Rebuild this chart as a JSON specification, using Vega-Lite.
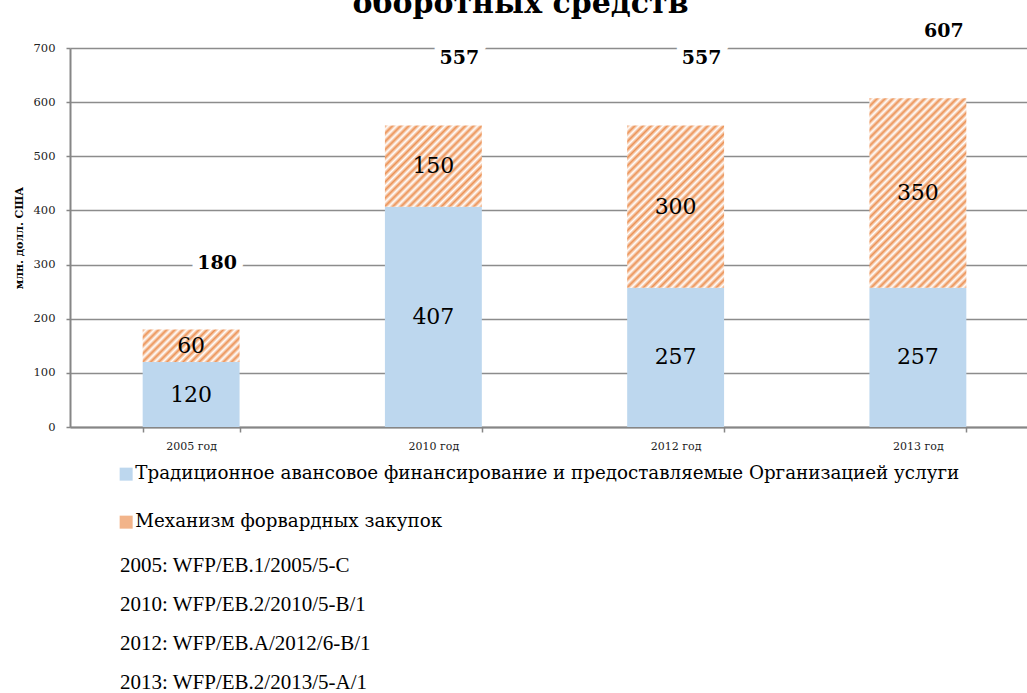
{
  "$schema": "https://vega.github.io/schema/vega-lite/v6.json",
  "width": 957,
  "height": 379,
  "autosize": {"type": "none"},
  "padding": {"left": 70, "top": 48, "right": 0, "bottom": 266},
  "background": "white",
  "config": {"view": {"stroke": null}},
  "title": {"text": "оборотных средств", "font": "DejaVu Serif", "fontSize": 30, "fontWeight": "bold", "color": "#000000", "anchor": "middle", "frame": "group", "dx": -28, "dy": 21, "offset": 0, "baseline": "alphabetic"},
  "datasets": {
    "bars": [
      {"year": "2005 год", "series": "Традиционное авансовое финансирование и предоставляемые Организацией услуги", "value": 120},
      {"year": "2005 год", "series": "Механизм форвардных закупок", "value": 60},
      {"year": "2010 год", "series": "Традиционное авансовое финансирование и предоставляемые Организацией услуги", "value": 407},
      {"year": "2010 год", "series": "Механизм форвардных закупок", "value": 150},
      {"year": "2012 год", "series": "Традиционное авансовое финансирование и предоставляемые Организацией услуги", "value": 257},
      {"year": "2012 год", "series": "Механизм форвардных закупок", "value": 300},
      {"year": "2013 год", "series": "Традиционное авансовое финансирование и предоставляемые Организацией услуги", "value": 257},
      {"year": "2013 год", "series": "Механизм форвардных закупок", "value": 350}
    ],
    "notes": [
      {"note": "2005: WFP/EB.1/2005/5-C"},
      {"note": "2010: WFP/EB.2/2010/5-B/1"},
      {"note": "2012: WFP/EB.A/2012/6-B/1"},
      {"note": "2013: WFP/EB.2/2013/5-A/1"}
    ]
  },
  "data": {"name": "bars"},
  "layer": [
    {
      "transform": [{"filter": "datum.series !== 'Механизм форвардных закупок'"}],
      "mark": {"type": "bar"},
      "encoding": {
        "x": {"field": "year", "type": "nominal", "sort": null,
          "scale": {"range": [0, 969], "paddingInner": 0.6, "paddingOuter": 0.3},
          "axis": {"title": null, "labelAngle": 0, "tickBand": "extent", "tickSize": 5, "labelPadding": 8, "domainColor": "#868686", "domainWidth": 2, "tickColor": "#868686", "tickWidth": 1.5, "labelFont": "DejaVu Serif", "labelFontSize": 11, "labelColor": "#222222", "grid": false}},
        "y": {"field": "value", "type": "quantitative",
          "scale": {"domain": [0, 700], "nice": false},
          "axis": {"title": "млн. долл. США", "titleFont": "DejaVu Serif", "titleFontSize": 11, "titleFontWeight": "bold", "titleColor": "#000000", "titlePadding": 9, "values": [0, 100, 200, 300, 400, 500, 600, 700], "grid": true, "gridColor": "#8c8c8c", "gridWidth": 1.5, "domainColor": "#868686", "domainWidth": 2, "tickSize": 4, "tickColor": "#868686", "tickWidth": 1.5, "labelFont": "DejaVu Serif", "labelFontSize": 11.5, "labelPadding": 11, "labelColor": "#222222"}},
        "fill": {"field": "series", "type": "nominal",
          "scale": {"domain": ["Традиционное авансовое финансирование и предоставляемые Организацией услуги", "Механизм форвардных закупок"], "range": ["#bdd7ee", "#f2b48a"]},
          "legend": {"orient": "none", "legendX": 47, "legendY": 417, "title": null, "direction": "vertical", "symbolType": "square", "symbolSize": 169, "symbolStrokeWidth": 0, "labelFont": "DejaVu Serif", "labelFontSize": 18.3, "labelColor": "#000000", "labelOffset": 0, "rowPadding": 29, "padding": 0, "labelLimit": 1000}}
      }
    },
    {
      "transform": [
        {"stack": "value", "groupby": ["year"], "sort": [{"field": "series", "order": "descending"}], "as": ["v0", "v1"]},
        {"filter": "datum.year === '2005 год' && datum.v0 > 0"}
      ],
      "mark": {"type": "bar", "fill": {"gradient": "linear", "x1": 0, "y1": 0, "x2": 1.2004, "y2": 0.4025, "stops": [
        {"offset": 0, "color": "#ec9255"}, {"offset": 0.03125, "color": "#ffffff"}, {"offset": 0.0625, "color": "#ec9255"}, {"offset": 0.09375, "color": "#ffffff"},
        {"offset": 0.125, "color": "#ec9255"}, {"offset": 0.15625, "color": "#ffffff"}, {"offset": 0.1875, "color": "#ec9255"}, {"offset": 0.21875, "color": "#ffffff"},
        {"offset": 0.25, "color": "#ec9255"}, {"offset": 0.28125, "color": "#ffffff"}, {"offset": 0.3125, "color": "#ec9255"}, {"offset": 0.34375, "color": "#ffffff"},
        {"offset": 0.375, "color": "#ec9255"}, {"offset": 0.40625, "color": "#ffffff"}, {"offset": 0.4375, "color": "#ec9255"}, {"offset": 0.46875, "color": "#ffffff"},
        {"offset": 0.5, "color": "#ec9255"}, {"offset": 0.53125, "color": "#ffffff"}, {"offset": 0.5625, "color": "#ec9255"}, {"offset": 0.59375, "color": "#ffffff"},
        {"offset": 0.625, "color": "#ec9255"}, {"offset": 0.65625, "color": "#ffffff"}, {"offset": 0.6875, "color": "#ec9255"}, {"offset": 0.71875, "color": "#ffffff"},
        {"offset": 0.75, "color": "#ec9255"}, {"offset": 0.78125, "color": "#ffffff"}, {"offset": 0.8125, "color": "#ec9255"}, {"offset": 0.84375, "color": "#ffffff"},
        {"offset": 0.875, "color": "#ec9255"}, {"offset": 0.90625, "color": "#ffffff"}, {"offset": 0.9375, "color": "#ec9255"}, {"offset": 0.96875, "color": "#ffffff"},
        {"offset": 1, "color": "#ec9255"}]}},
      "encoding": {
        "x": {"field": "year", "type": "nominal", "sort": null},
        "y": {"field": "v0", "type": "quantitative"},
        "y2": {"field": "v1"}
      }
    },
    {
      "transform": [
        {"stack": "value", "groupby": ["year"], "sort": [{"field": "series", "order": "descending"}], "as": ["v0", "v1"]},
        {"filter": "datum.year === '2010 год' && datum.v0 > 0"}
      ],
      "mark": {"type": "bar", "fill": {"gradient": "linear", "x1": 0, "y1": 0, "x2": 1.0797, "y2": 0.9049, "stops": [
        {"offset": 0, "color": "#ec9255"}, {"offset": 0.0227, "color": "#ffffff"}, {"offset": 0.0455, "color": "#ec9255"}, {"offset": 0.0682, "color": "#ffffff"},
        {"offset": 0.0909, "color": "#ec9255"}, {"offset": 0.1136, "color": "#ffffff"}, {"offset": 0.1364, "color": "#ec9255"}, {"offset": 0.1591, "color": "#ffffff"},
        {"offset": 0.1818, "color": "#ec9255"}, {"offset": 0.2045, "color": "#ffffff"}, {"offset": 0.2273, "color": "#ec9255"}, {"offset": 0.25, "color": "#ffffff"},
        {"offset": 0.2727, "color": "#ec9255"}, {"offset": 0.2955, "color": "#ffffff"}, {"offset": 0.3182, "color": "#ec9255"}, {"offset": 0.3409, "color": "#ffffff"},
        {"offset": 0.3636, "color": "#ec9255"}, {"offset": 0.3864, "color": "#ffffff"}, {"offset": 0.4091, "color": "#ec9255"}, {"offset": 0.4318, "color": "#ffffff"},
        {"offset": 0.4545, "color": "#ec9255"}, {"offset": 0.4773, "color": "#ffffff"}, {"offset": 0.5, "color": "#ec9255"}, {"offset": 0.5227, "color": "#ffffff"},
        {"offset": 0.5455, "color": "#ec9255"}, {"offset": 0.5682, "color": "#ffffff"}, {"offset": 0.5909, "color": "#ec9255"}, {"offset": 0.6136, "color": "#ffffff"},
        {"offset": 0.6364, "color": "#ec9255"}, {"offset": 0.6591, "color": "#ffffff"}, {"offset": 0.6818, "color": "#ec9255"}, {"offset": 0.7045, "color": "#ffffff"},
        {"offset": 0.7273, "color": "#ec9255"}, {"offset": 0.75, "color": "#ffffff"}, {"offset": 0.7727, "color": "#ec9255"}, {"offset": 0.7955, "color": "#ffffff"},
        {"offset": 0.8182, "color": "#ec9255"}, {"offset": 0.8409, "color": "#ffffff"}, {"offset": 0.8636, "color": "#ec9255"}, {"offset": 0.8864, "color": "#ffffff"},
        {"offset": 0.9091, "color": "#ec9255"}, {"offset": 0.9318, "color": "#ffffff"}, {"offset": 0.9545, "color": "#ec9255"}, {"offset": 0.9773, "color": "#ffffff"},
        {"offset": 1, "color": "#ec9255"}]}},
      "encoding": {
        "x": {"field": "year", "type": "nominal", "sort": null},
        "y": {"field": "v0", "type": "quantitative"},
        "y2": {"field": "v1"}
      }
    },
    {
      "transform": [
        {"stack": "value", "groupby": ["year"], "sort": [{"field": "series", "order": "descending"}], "as": ["v0", "v1"]},
        {"filter": "datum.year === '2012 год' && datum.v0 > 0"}
      ],
      "mark": {"type": "bar", "fill": {"gradient": "linear", "x1": 0, "y1": 0, "x2": 0.7025, "y2": 1.1775, "stops": [
        {"offset": 0, "color": "#ec9255"}, {"offset": 0.015625, "color": "#ffffff"}, {"offset": 0.03125, "color": "#ec9255"}, {"offset": 0.046875, "color": "#ffffff"},
        {"offset": 0.0625, "color": "#ec9255"}, {"offset": 0.078125, "color": "#ffffff"}, {"offset": 0.09375, "color": "#ec9255"}, {"offset": 0.109375, "color": "#ffffff"},
        {"offset": 0.125, "color": "#ec9255"}, {"offset": 0.140625, "color": "#ffffff"}, {"offset": 0.15625, "color": "#ec9255"}, {"offset": 0.171875, "color": "#ffffff"},
        {"offset": 0.1875, "color": "#ec9255"}, {"offset": 0.203125, "color": "#ffffff"}, {"offset": 0.21875, "color": "#ec9255"}, {"offset": 0.234375, "color": "#ffffff"},
        {"offset": 0.25, "color": "#ec9255"}, {"offset": 0.265625, "color": "#ffffff"}, {"offset": 0.28125, "color": "#ec9255"}, {"offset": 0.296875, "color": "#ffffff"},
        {"offset": 0.3125, "color": "#ec9255"}, {"offset": 0.328125, "color": "#ffffff"}, {"offset": 0.34375, "color": "#ec9255"}, {"offset": 0.359375, "color": "#ffffff"},
        {"offset": 0.375, "color": "#ec9255"}, {"offset": 0.390625, "color": "#ffffff"}, {"offset": 0.40625, "color": "#ec9255"}, {"offset": 0.421875, "color": "#ffffff"},
        {"offset": 0.4375, "color": "#ec9255"}, {"offset": 0.453125, "color": "#ffffff"}, {"offset": 0.46875, "color": "#ec9255"}, {"offset": 0.484375, "color": "#ffffff"},
        {"offset": 0.5, "color": "#ec9255"}, {"offset": 0.515625, "color": "#ffffff"}, {"offset": 0.53125, "color": "#ec9255"}, {"offset": 0.546875, "color": "#ffffff"},
        {"offset": 0.5625, "color": "#ec9255"}, {"offset": 0.578125, "color": "#ffffff"}, {"offset": 0.59375, "color": "#ec9255"}, {"offset": 0.609375, "color": "#ffffff"},
        {"offset": 0.625, "color": "#ec9255"}, {"offset": 0.640625, "color": "#ffffff"}, {"offset": 0.65625, "color": "#ec9255"}, {"offset": 0.671875, "color": "#ffffff"},
        {"offset": 0.6875, "color": "#ec9255"}, {"offset": 0.703125, "color": "#ffffff"}, {"offset": 0.71875, "color": "#ec9255"}, {"offset": 0.734375, "color": "#ffffff"},
        {"offset": 0.75, "color": "#ec9255"}, {"offset": 0.765625, "color": "#ffffff"}, {"offset": 0.78125, "color": "#ec9255"}, {"offset": 0.796875, "color": "#ffffff"},
        {"offset": 0.8125, "color": "#ec9255"}, {"offset": 0.828125, "color": "#ffffff"}, {"offset": 0.84375, "color": "#ec9255"}, {"offset": 0.859375, "color": "#ffffff"},
        {"offset": 0.875, "color": "#ec9255"}, {"offset": 0.890625, "color": "#ffffff"}, {"offset": 0.90625, "color": "#ec9255"}, {"offset": 0.921875, "color": "#ffffff"},
        {"offset": 0.9375, "color": "#ec9255"}, {"offset": 0.953125, "color": "#ffffff"}, {"offset": 0.96875, "color": "#ec9255"}, {"offset": 0.984375, "color": "#ffffff"},
        {"offset": 1, "color": "#ec9255"}]}},
      "encoding": {
        "x": {"field": "year", "type": "nominal", "sort": null},
        "y": {"field": "v0", "type": "quantitative"},
        "y2": {"field": "v1"}
      }
    },
    {
      "transform": [
        {"stack": "value", "groupby": ["year"], "sort": [{"field": "series", "order": "descending"}], "as": ["v0", "v1"]},
        {"filter": "datum.year === '2013 год' && datum.v0 > 0"}
      ],
      "mark": {"type": "bar", "fill": {"gradient": "linear", "x1": 0, "y1": 0, "x2": 0.6126, "y2": 1.1981, "stops": [
        {"offset": 0, "color": "#ec9255"}, {"offset": 0.0139, "color": "#ffffff"}, {"offset": 0.0278, "color": "#ec9255"}, {"offset": 0.0417, "color": "#ffffff"},
        {"offset": 0.0556, "color": "#ec9255"}, {"offset": 0.0694, "color": "#ffffff"}, {"offset": 0.0833, "color": "#ec9255"}, {"offset": 0.0972, "color": "#ffffff"},
        {"offset": 0.1111, "color": "#ec9255"}, {"offset": 0.125, "color": "#ffffff"}, {"offset": 0.1389, "color": "#ec9255"}, {"offset": 0.1528, "color": "#ffffff"},
        {"offset": 0.1667, "color": "#ec9255"}, {"offset": 0.1806, "color": "#ffffff"}, {"offset": 0.1944, "color": "#ec9255"}, {"offset": 0.2083, "color": "#ffffff"},
        {"offset": 0.2222, "color": "#ec9255"}, {"offset": 0.2361, "color": "#ffffff"}, {"offset": 0.25, "color": "#ec9255"}, {"offset": 0.2639, "color": "#ffffff"},
        {"offset": 0.2778, "color": "#ec9255"}, {"offset": 0.2917, "color": "#ffffff"}, {"offset": 0.3056, "color": "#ec9255"}, {"offset": 0.3194, "color": "#ffffff"},
        {"offset": 0.3333, "color": "#ec9255"}, {"offset": 0.3472, "color": "#ffffff"}, {"offset": 0.3611, "color": "#ec9255"}, {"offset": 0.375, "color": "#ffffff"},
        {"offset": 0.3889, "color": "#ec9255"}, {"offset": 0.4028, "color": "#ffffff"}, {"offset": 0.4167, "color": "#ec9255"}, {"offset": 0.4306, "color": "#ffffff"},
        {"offset": 0.4444, "color": "#ec9255"}, {"offset": 0.4583, "color": "#ffffff"}, {"offset": 0.4722, "color": "#ec9255"}, {"offset": 0.4861, "color": "#ffffff"},
        {"offset": 0.5, "color": "#ec9255"}, {"offset": 0.5139, "color": "#ffffff"}, {"offset": 0.5278, "color": "#ec9255"}, {"offset": 0.5417, "color": "#ffffff"},
        {"offset": 0.5556, "color": "#ec9255"}, {"offset": 0.5694, "color": "#ffffff"}, {"offset": 0.5833, "color": "#ec9255"}, {"offset": 0.5972, "color": "#ffffff"},
        {"offset": 0.6111, "color": "#ec9255"}, {"offset": 0.625, "color": "#ffffff"}, {"offset": 0.6389, "color": "#ec9255"}, {"offset": 0.6528, "color": "#ffffff"},
        {"offset": 0.6667, "color": "#ec9255"}, {"offset": 0.6806, "color": "#ffffff"}, {"offset": 0.6944, "color": "#ec9255"}, {"offset": 0.7083, "color": "#ffffff"},
        {"offset": 0.7222, "color": "#ec9255"}, {"offset": 0.7361, "color": "#ffffff"}, {"offset": 0.75, "color": "#ec9255"}, {"offset": 0.7639, "color": "#ffffff"},
        {"offset": 0.7778, "color": "#ec9255"}, {"offset": 0.7917, "color": "#ffffff"}, {"offset": 0.8056, "color": "#ec9255"}, {"offset": 0.8194, "color": "#ffffff"},
        {"offset": 0.8333, "color": "#ec9255"}, {"offset": 0.8472, "color": "#ffffff"}, {"offset": 0.8611, "color": "#ec9255"}, {"offset": 0.875, "color": "#ffffff"},
        {"offset": 0.8889, "color": "#ec9255"}, {"offset": 0.9028, "color": "#ffffff"}, {"offset": 0.9167, "color": "#ec9255"}, {"offset": 0.9306, "color": "#ffffff"},
        {"offset": 0.9444, "color": "#ec9255"}, {"offset": 0.9583, "color": "#ffffff"}, {"offset": 0.9722, "color": "#ec9255"}, {"offset": 0.9861, "color": "#ffffff"},
        {"offset": 1, "color": "#ec9255"}]}},
      "encoding": {
        "x": {"field": "year", "type": "nominal", "sort": null},
        "y": {"field": "v0", "type": "quantitative"},
        "y2": {"field": "v1"}
      }
    },
    {
      "mark": {"type": "text", "font": "DejaVu Serif", "fontSize": 22, "color": "#000000", "baseline": "middle"},
      "encoding": {
        "x": {"field": "year", "type": "nominal", "sort": null},
        "y": {"field": "value", "type": "quantitative", "stack": "zero", "bandPosition": 0.5},
        "detail": {"field": "series", "type": "nominal"},
        "order": {"field": "series", "type": "nominal", "sort": "descending"},
        "text": {"field": "value", "type": "quantitative"}
      }
    },
    {
      "transform": [{"aggregate": [{"op": "sum", "field": "value", "as": "total"}], "groupby": ["year"]}],
      "mark": {"type": "text", "font": "DejaVu Serif", "fontSize": 19, "fontWeight": "bold", "color": "#ffffff", "stroke": "#ffffff", "strokeWidth": 14, "baseline": "middle", "dx": 26, "dy": -67},
      "encoding": {
        "x": {"field": "year", "type": "nominal", "sort": null},
        "y": {"field": "total", "type": "quantitative"},
        "text": {"field": "total", "type": "quantitative"}
      }
    },
    {
      "transform": [{"aggregate": [{"op": "sum", "field": "value", "as": "total"}], "groupby": ["year"]}],
      "mark": {"type": "text", "font": "DejaVu Serif", "fontSize": 19, "fontWeight": "bold", "color": "#000000", "baseline": "middle", "dx": 26, "dy": -67},
      "encoding": {
        "x": {"field": "year", "type": "nominal", "sort": null},
        "y": {"field": "total", "type": "quantitative"},
        "text": {"field": "total", "type": "quantitative"}
      }
    },
    {
      "data": {"name": "notes"},
      "mark": {"type": "point", "opacity": 0},
      "encoding": {
        "shape": {"field": "note", "type": "nominal",
          "legend": {"orient": "none", "legendX": 29, "legendY": 507, "title": null, "symbolOpacity": 0, "symbolSize": 1, "labelOffset": 0, "labelFont": "Liberation Serif", "labelFontSize": 21, "labelColor": "#000000", "rowPadding": 17, "padding": 0, "labelLimit": 1000}}
      }
    }
  ]
}
